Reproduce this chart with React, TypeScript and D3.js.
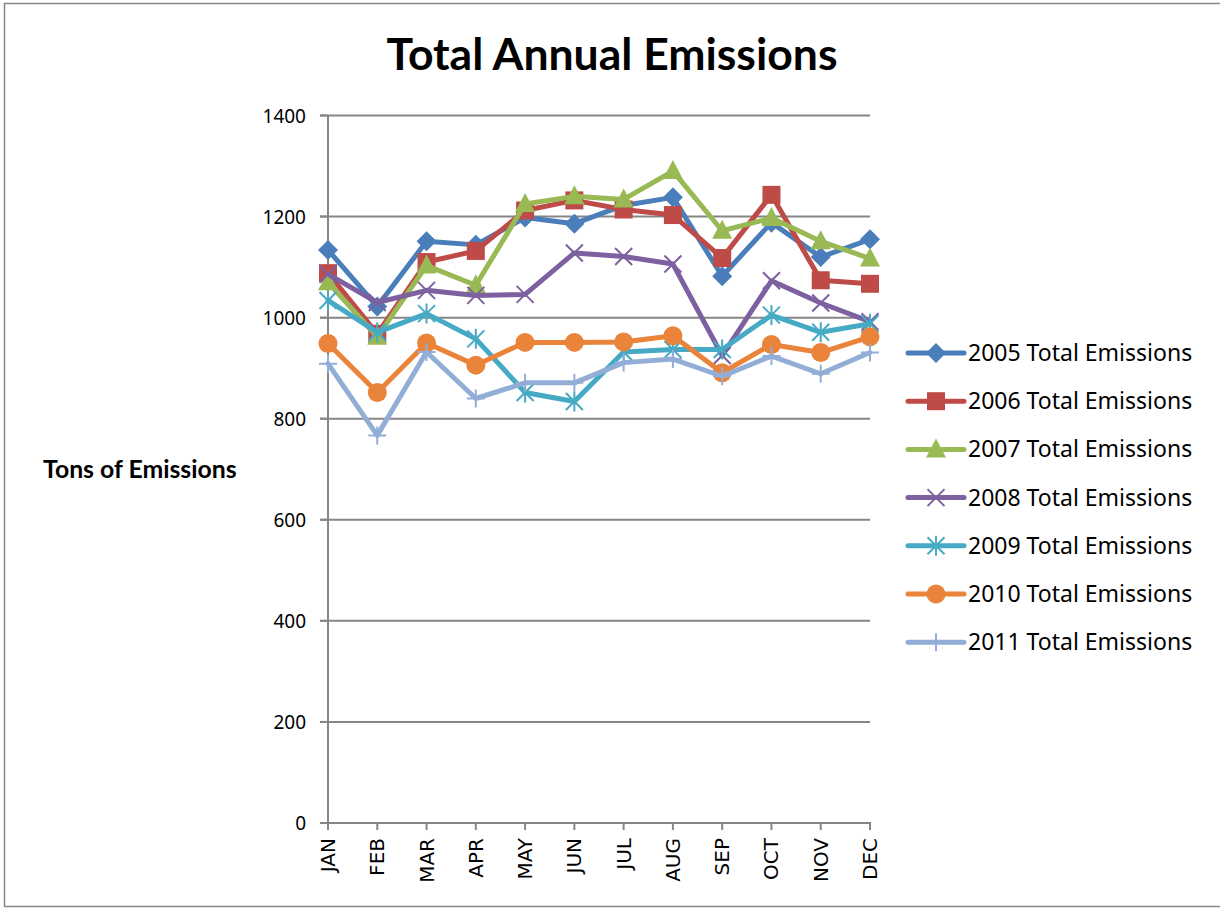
import React from "react";
import * as d3 from "d3";

const months = ["JAN", "FEB", "MAR", "APR", "MAY", "JUN", "JUL", "AUG", "SEP", "OCT", "NOV", "DEC"];
const yTicks = [0, 200, 400, 600, 800, 1000, 1200, 1400];

const s2005 = [1134, 1022, 1151, 1144, 1198, 1186, 1222, 1238, 1082, 1188, 1120, 1155];
const s2006 = [1088, 968, 1110, 1132, 1212, 1232, 1214, 1203, 1118, 1243, 1074, 1067];
const s2007 = [1070, 962, 1103, 1064, 1225, 1240, 1234, 1290, 1172, 1197, 1151, 1117];
const s2008 = [1086, 1030, 1054, 1044, 1046, 1128, 1121, 1106, 925, 1073, 1029, 992];
const s2009 = [1034, 971, 1008, 958, 852, 834, 932, 937, 937, 1005, 971, 988];
const s2010 = [949, 852, 950, 906, 951, 951, 952, 964, 891, 947, 931, 962];
const s2011 = [909, 767, 932, 840, 871, 871, 911, 918, 884, 924, 889, 931];

const seriesNames = [
  "2005 Total Emissions",
  "2006 Total Emissions",
  "2007 Total Emissions",
  "2008 Total Emissions",
  "2009 Total Emissions",
  "2010 Total Emissions",
  "2011 Total Emissions",
];
const seriesValues = [s2005, s2006, s2007, s2008, s2009, s2010, s2011];
const colors = ["#4A7EBB", "#BE4B48", "#98B954", "#7D60A0", "#46AAC5", "#E9843A", "#93AED6"];
const markerKinds = ["diamond", "square", "triangle", "x", "star", "circle", "plus"];

function Marker({ kind, x, y, color }: { kind: string; x: number; y: number; color: string }) {
  const t = `translate(${x},${y})`;
  switch (kind) {
    case "diamond":
      return <path transform={t} d="M0,-10L10,0L0,10L-10,0Z" fill={color} />;
    case "square":
      return <rect transform={t} x={-9} y={-9} width={18} height={18} fill={color} />;
    case "triangle":
      return <path transform={t} d="M0,-11L10,8L-10,8Z" fill={color} />;
    case "circle":
      return <circle transform={t} r={9.5} fill={color} />;
    case "x":
      return (
        <path transform={t} d="M-8.5,-8.5L8.5,8.5M-8.5,8.5L8.5,-8.5" stroke={color} strokeWidth={2} fill="none" />
      );
    case "star":
      return (
        <path
          transform={t}
          d="M-8.5,-8.5L8.5,8.5M-8.5,8.5L8.5,-8.5M0,-10L0,10"
          stroke={color}
          strokeWidth={2}
          fill="none"
        />
      );
    case "plus":
      return (
        <path transform={t} d="M-9,0L9,0M0,-9L0,9" stroke={color} strokeWidth={2} fill="none" />
      );
    default:
      return null;
  }
}

export default function App() {
  const W = 1220;
  const H = 909;
  const x = d3.scalePoint<string>().domain(months).range([328, 870]);
  const y = d3.scaleLinear().domain([0, 1400]).range([823, 115.5]);
  const line = d3
    .line<number>()
    .x((_, i) => x(months[i]) as number)
    .y((d) => y(d));

  const legendX = 908;
  const legendY0 = 353;
  const legendStep = 48.2;

  return (
    <svg
      width={W}
      height={H}
      style={{ position: "absolute", left: 0, top: 0, background: "#fff" }}
    >
      <rect x={4.5} y={3.5} width={W} height={903} fill="#fff" stroke="#868686" strokeWidth={1.5} />
      <text
        x={612}
        y={70}
        textAnchor="middle"
        fontFamily="Lato, 'Open Sans', sans-serif"
        fontWeight="bold"
        fontSize={44.5}
        fill="#000"
      >
        Total Annual Emissions
      </text>
      <text
        x={43}
        y={478}
        fontFamily="Lato, 'Open Sans', sans-serif"
        fontWeight="bold"
        fontSize={24.8}
        fill="#000"
      >
        Tons of Emissions
      </text>

      {/* gridlines */}
      {yTicks.map((t) => (
        <g key={t}>
          {t > 0 && (
            <line x1={320} x2={870} y1={y(t)} y2={y(t)} stroke="#868686" strokeWidth={2} />
          )}
          <line x1={320} x2={328} y1={y(t)} y2={y(t)} stroke="#868686" strokeWidth={2} />
          <text
            x={306}
            y={y(t) + 7}
            textAnchor="end"
            fontFamily="'Noto Sans', 'Open Sans', sans-serif"
            fontSize={19}
            fill="#000"
          >
            {t}
          </text>
        </g>
      ))}
      {/* axes */}
      <line x1={328} x2={328} y1={y(1400)} y2={y(0)} stroke="#868686" strokeWidth={2} />
      <line x1={320} x2={871} y1={y(0)} y2={y(0)} stroke="#868686" strokeWidth={2} />
      {months.map((m) => (
        <g key={m}>
          <line
            x1={x(m)}
            x2={x(m)}
            y1={y(0)}
            y2={y(0) + 7}
            stroke="#868686"
            strokeWidth={2}
          />
          <text
            transform={`translate(${(x(m) as number) + 7},${y(0) + 15}) rotate(-90)`}
            textAnchor="end"
            fontFamily="'DejaVu Sans', 'Noto Sans', sans-serif"
            fontSize={20}
            fill="#000"
          >
            {m}
          </text>
        </g>
      ))}

      {/* series */}
      {seriesValues.map((vals, si) => (
        <g key={seriesNames[si]}>
          <path
            d={line(vals) as string}
            fill="none"
            stroke={colors[si]}
            strokeWidth={5}
            strokeLinejoin="round"
            strokeLinecap="round"
          />
          {vals.map((v, i) => (
            <Marker
              key={i}
              kind={markerKinds[si]}
              x={x(months[i]) as number}
              y={y(v)}
              color={colors[si]}
            />
          ))}
        </g>
      ))}

      {/* legend */}
      {seriesNames.map((name, si) => {
        const ly = legendY0 + si * legendStep;
        return (
          <g key={name}>
            <line
              x1={legendX}
              x2={legendX + 56}
              y1={ly}
              y2={ly}
              stroke={colors[si]}
              strokeWidth={5}
              strokeLinecap="round"
            />
            <Marker kind={markerKinds[si]} x={legendX + 28} y={ly} color={colors[si]} />
            <text
              x={968}
              y={ly + 8}
              fontFamily="'Noto Sans', 'Open Sans', sans-serif"
              fontSize={23}
              fill="#000"
            >
              {name}
            </text>
          </g>
        );
      })}
    </svg>
  );
}
